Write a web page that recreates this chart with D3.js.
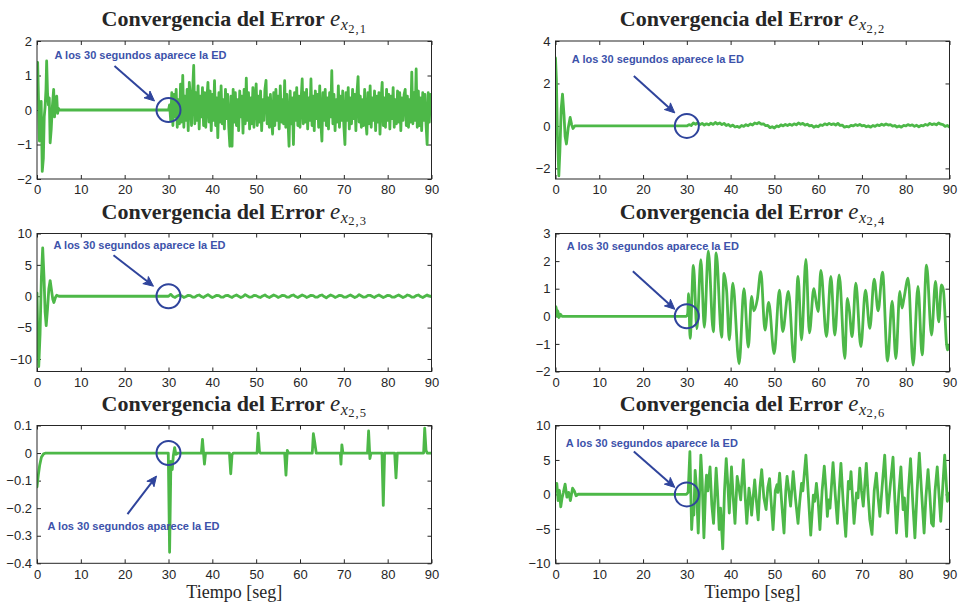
<!DOCTYPE html>
<html>
<head>
<meta charset="utf-8">
<script src="https://cdn.jsdelivr.net/npm/d3@7"></script>
<style>
  html, body { margin: 0; padding: 0; background: #fff; }
  svg { display: block; }
</style>
</head>
<body>
<svg id="chart" width="958" height="605"></svg>
<script>
// ---- axis ticks -------------------------------------------------------
const xTicks = [0, 10, 20, 30, 40, 50, 60, 70, 80, 90];
const yTicks21 = [-2, -1, 0, 1, 2];
const yTicks22 = [-2, 0, 2, 4];
const yTicks23 = [-10, -5, 0, 5, 10];
const yTicks24 = [-2, -1, 0, 1, 2, 3];
const yTicks25 = [-0.4, -0.3, -0.2, -0.1, 0, 0.1];
const yTicks26 = [-10, -5, 0, 5, 10];

// ---- e_{x2,1}: start-up transient [t, e] and sampled response from t = 30 s (dt = 0.25 s)
const e21Start = [
  [0, 1.3], [0.15, 1.38], [0.35, 0.3], [0.55, -0.9], [0.75, -0.75], [0.95, 0.25],
  [1.2, -1.78], [1.45, -1.4], [1.65, -0.2], [1.85, 0.1], [2.05, 0.6], [2.2, 1.42],
  [2.4, 0.5], [2.6, 0.15], [2.8, 0.35], [3.0, -0.95], [3.25, -0.55], [3.5, 0.1],
  [3.8, 0.6], [4.0, -0.2], [4.2, 0.25], [4.5, 0.4], [4.7, -0.1], [4.9, 0.05],
  [5.1, 0], [29.9, 0]
];
const e21After = [
  0, 0.15, -0.3, 0.5, -0.45, 0.45, -0.2, 0.6, -0.5, 0.3, -0.4, 0.75, -0.35, 1.0, -0.5, 0.4, -0.3, 0.6, -0.6, 0.8,
  0.3, -0.45, 0.55, 1.29, -0.4, 0.5, -0.3, 0.7, -0.55, 0.4, -0.2, 0.65, -0.45, 0.5, -0.5, 0.3, 0.8, -0.35, 0.55, -0.6,
  0.45, -0.3, 0.85, -0.45, 0.35, -0.8, 0.5, -0.35, 0.7, -0.4, 0.3, -0.55, 0.6, -0.25, 0.45, -0.5, -1.05, 0.4, -1.05, 0.6,
  -0.35, 0.5, -0.45, 0.3, -0.6, 0.55, -0.2, 0.4, -0.67, 0.6, -0.4, 0.92, -0.3, 0.5, -0.55, 0.35, -0.4, 0.65, -0.5, 0.3,
  0.76, -0.45, 0.4, -0.35, 0.55, -0.6, 0.3, -0.3, 0.6, 0.86, -0.4, 0.35, -0.5, 0.45, -0.25, -0.7, 0.5, -0.45, 0.6, -0.3,
  0.4, -0.55, 0.7, -0.35, 0.3, -0.4, 0.85, -0.5, 0.45, -0.3, -1.05, 0.55, -0.4, 0.35, -1.0, 0.5, -0.3, 0.65, -0.45, 0.4,
  -0.5, 0.3, 0.9, -0.4, 0.5, -0.35, 0.6, -0.55, 0.35, -0.3, 0.9, -0.45, 0.4, -0.6, 0.55, -0.25, 0.45, -0.5, 0.7, -0.35,
  -0.9, 0.5, -0.3, 0.6, -0.45, 0.35, -0.55, 0.5, -0.2, 1.14, -0.4, 0.45, -0.6, 0.3, -0.35, 0.7, -0.5, 0.4, -0.3, 0.55,
  -0.45, -1.0, 0.5, -0.3, 0.65, -0.55, 0.35, -0.4, 0.6, -0.25, 0.45, -0.6, 0.5, 0.97, -0.35, 0.4, -0.5, 0.3, -0.45, 0.6,
  -0.3, -0.7, 0.5, -0.4, 0.7, -0.5, 0.35, -0.3, 0.55, -0.6, 0.4, -0.35, 0.5, -0.7, 0.3, 0.8, -0.45, 0.35, -0.5, 0.6,
  -0.3, 0.45, -0.55, 0.4, -0.25, 0.65, -0.5, 0.3, -0.4, 0.55, -0.35, 0.5, -0.6, 0.35, -0.3, 0.45, 0.6, -0.45, 0.4, -0.5,
  0.3, -0.35, 1.1, -0.4, 0.5, -0.3, 1.19, -0.5, 0.55, -0.45, 0.35, -0.6, 0.5, -0.3, 0.45, -0.4, -1.0, 0.5, -0.35, 0.45,
  0.1
];

// ---- e_{x2,2}: transient and response from t = 30 s (dt = 0.5 s)
const e22Start = [
  [0, 3.2], [0.2, 2.2], [0.45, -0.5], [0.76, -2.35], [1.0, -1.2], [1.3, 0.8], [1.6, 1.5],
  [1.95, 0.5], [2.2, -0.5], [2.5, -0.85], [2.9, -0.1], [3.35, 0.4], [3.7, 0.05],
  [4.0, -0.12], [4.4, 0], [29.9, 0]
];
const e22After = [
  0.0, 0.06, 0.02, 0.14, 0.08, 0.15, 0.06, 0.12, 0.04, 0.1,
  0.05, 0.13, 0.07, 0.16, 0.09, 0.14, 0.06, 0.12, 0.02, 0.07,
  -0.02, 0.04, -0.05, -0.02, -0.07, 0.02, -0.02, 0.06, 0.01, 0.09,
  0.04, 0.14, 0.1, 0.16, 0.08, 0.1, 0.01, 0.02, -0.08, -0.04,
  -0.1, 0.0, -0.04, 0.05, 0.0, 0.07, 0.02, 0.08, 0.03, 0.1,
  0.05, 0.14, 0.08, 0.12, 0.04, 0.08, 0.0, 0.03, -0.06, 0.0,
  -0.04, 0.05, 0.02, 0.1, 0.05, 0.12, 0.06, 0.1, 0.04, 0.12,
  0.02, 0.04, -0.06, -0.02, -0.05, 0.03, 0.0, 0.06, 0.02, 0.07,
  0.0, 0.03, -0.04, 0.0, -0.06, 0.02, -0.02, 0.05, 0.01, 0.08,
  0.03, 0.09, 0.04, 0.06, -0.01, 0.02, -0.05, 0.0, -0.06, 0.02,
  0.0, 0.06, 0.02, 0.05, -0.02, 0.03, -0.04, 0.02, 0.0, 0.07,
  0.03, 0.12, 0.06, 0.1, 0.05, 0.14, 0.08, 0.06, -0.02, 0.02,
  -0.05
];

// ---- e_{x2,3}: transient and response from t = 30 s (dt = 0.5 s)
const e23Start = [
  [0, 0.5], [0.2, -7], [0.4, -11.2], [0.7, -6], [1.0, 3], [1.3, 7.7], [1.6, 3],
  [1.85, -2.5], [2.1, -4.7], [2.4, -2], [2.7, 1.2], [3.0, 2.5], [3.3, 1.0],
  [3.6, -0.5], [3.85, -1.0], [4.2, -0.2], [4.5, 0.15], [5.0, 0], [29.9, 0]
];
const e23After = [
  0.0, 0.3, -0.05, -0.2, 0.05, 0.2, 0.05, -0.2, -0.05, 0.15,
  0.1, -0.15, -0.15, 0.1, 0.2, -0.05, -0.2, 0.05, 0.25, 0.0,
  -0.2, -0.05, 0.15, 0.1, -0.15, -0.15, 0.1, 0.15, -0.05, -0.2,
  0.05, 0.2, 0.0, -0.2, -0.05, 0.25, 0.05, -0.15, -0.1, 0.15,
  0.1, -0.1, -0.2, 0.05, 0.2, -0.05, -0.2, 0.0, 0.2, 0.05,
  -0.2, -0.05, 0.15, 0.1, -0.15, -0.15, 0.1, 0.2, -0.05, -0.2,
  0.0, 0.2, 0.05, -0.2, -0.05, 0.15, 0.1, -0.15, -0.15, 0.1,
  0.2, -0.05, -0.25, 0.0, 0.2, 0.05, -0.2, -0.05, 0.15, 0.1,
  -0.15, -0.15, 0.05, 0.2, 0.0, -0.2, -0.05, 0.25, 0.05, -0.15,
  -0.1, 0.15, 0.15, -0.05, -0.2, 0.05, 0.2, 0.0, -0.2, -0.05,
  0.15, 0.1, -0.15, -0.15, 0.05, 0.2, 0.0, -0.2, -0.05, 0.2,
  0.1, -0.15, -0.15, 0.1, 0.2, -0.05, -0.2, 0.0, 0.2, 0.05,
  -0.05
];

// ---- e_{x2,4}: turning points [t, e]
const e24 = [
  [0, 0.05], [0.15, 0.35], [0.35, 0.0], [0.55, 0.2], [0.8, -0.05], [1.1, 0.08], [1.5, 0], [29.9, 0],
  [30.2, 0.1], [30.4, 0.82], [30.75, -0.8], [31.5, 1.84], [32.3, -0.45], [33.2, 2.05], [34.0, -0.4],
  [34.9, 2.37], [36.05, -0.56], [36.7, 2.3], [37.95, -0.76], [38.5, 1.55], [39.1, 0.9], [39.7, -0.85],
  [40.5, 1.2], [41.95, -1.72], [43.05, 1.0], [44.05, -1.12], [44.8, 0.72], [45.3, 0.2], [46.1, 0.62],
  [46.9, 1.62], [47.85, -0.5], [48.7, 0.5], [49.95, -1.35], [51.15, 0.95], [51.9, -0.55], [53.2, 0.9],
  [54.5, -1.65], [55.4, 1.45], [56.2, -0.85], [57.2, 2.06], [58.0, -0.6], [59.0, 1.0], [59.3, 0.77],
  [60.0, 0.17], [60.62, 1.66], [61.9, -0.74], [62.9, 1.45], [63.8, -0.68], [64.8, 1.5], [66.1, -1.53],
  [66.65, 0.65], [67.1, 0.25], [67.75, -0.74], [68.6, 1.2], [69.75, -1.1], [70.8, 0.95], [71.8, -0.44],
  [72.8, 1.35], [73.7, 0.2], [74.7, 1.6], [75.85, -1.62], [76.9, 0.55], [77.75, -1.53], [78.65, 0.9],
  [79.15, 0.3], [79.6, 0.65], [80.55, 1.38], [81.7, -1.77], [82.8, 1.08], [83.75, -1.4], [84.75, 1.85],
  [85.9, -0.68], [86.8, 1.26], [87.55, -0.2], [88.15, 1.14], [88.6, 0.95], [89.5, -1.22], [90, -1.04]
];

// ---- e_{x2,5}: isolated pulses [t, e]
const e25 = [
  [0, -0.123], [0.3, -0.08], [0.6, -0.045], [1.0, -0.015], [1.5, -0.003], [2, 0], [29.95, 0],
  [30.25, -0.36], [30.55, -0.03], [30.85, -0.06], [31.1, -0.01], [31.4, 0.02], [31.7, -0.005], [32.2, 0],
  [37.5, 0], [37.75, 0.05], [38.0, 0.0], [38.2, -0.04], [38.45, 0],
  [43.9, 0], [44.2, -0.075], [44.5, -0.005], [44.8, 0],
  [50.2, 0], [50.45, 0.072], [50.75, 0.005], [51, 0],
  [56.5, 0], [56.8, -0.08], [57.1, 0.01], [57.4, 0],
  [62.8, 0], [63.05, 0.07], [63.35, 0.04], [63.7, 0],
  [69.2, 0], [69.35, -0.04], [69.55, 0.03], [69.8, 0],
  [75.4, 0], [75.65, 0.08], [75.95, -0.02], [76.2, 0],
  [78.7, 0], [79.0, -0.19], [79.3, 0],
  [81.6, 0], [81.9, -0.09], [82.2, 0],
  [88.2, 0], [88.45, 0.09], [88.75, 0.01], [89, 0], [90, 0]
];

// ---- e_{x2,6}: turning points [t, e]
const e26 = [
  [0, 0.5], [0.3, 1.6], [0.6, -0.9], [0.9, 0.6], [1.2, -1.8], [1.5, -0.5], [1.8, 0.3], [2.2, 1.5],
  [2.6, -0.4], [3.0, 0.3], [3.4, -0.9], [3.9, 0.9], [4.3, 0.5], [4.7, -0.2], [5.2, 0.05], [29.9, 0],
  [30.3, 0.3], [30.7, 6.2], [31.1, -5.1], [31.4, -1.5], [31.6, -3.0], [31.9, 3.5], [32.2, 1.0], [32.6, -5.6],
  [33.2, 5.7], [33.5, 2.0], [33.9, -6.3], [34.3, 1.0], [34.5, 2.8], [34.8, 0.5], [35.3, 4.0], [35.7, -1.5],
  [36.1, -4.2], [36.7, 3.8], [37.0, 0.5], [37.4, -5.1], [37.7, -2.0], [38.2, -7.9], [38.6, 0.5], [39.0, 5.2],
  [39.4, 1.0], [39.7, -2.7], [40.2, 4.0], [40.6, -0.5], [41.0, -4.2], [41.5, 2.6], [41.9, 1.0], [42.3, -0.8],
  [42.9, 5.0], [43.3, 0.0], [43.7, -4.2], [44.2, 0.9], [44.5, -0.5], [44.8, -3.0], [45.5, 2.1], [45.9, -1.0],
  [46.3, -3.7], [46.7, 1.0], [47.1, 3.6], [47.6, -0.5], [48.1, -2.2], [48.5, 1.0], [48.9, 2.3], [49.3, -1.5],
  [49.7, -5.1], [50.2, 0.5], [50.6, 1.4], [50.8, 0.3], [51.2, 3.1], [51.7, -1.5], [52.2, -5.6], [52.6, 0.5],
  [52.9, 2.6], [53.3, 0.5], [53.7, -1.7], [54.3, 3.3], [54.8, -0.5], [55.4, -4.2], [55.8, -1.0], [56.2, 1.6],
  [56.5, 0.5], [57.2, 5.7], [57.7, 0.5], [58.3, -5.9], [58.9, -0.1], [59.2, -1.0], [59.6, 1.6], [60.0, -1.0],
  [60.4, -5.1], [60.9, 0.5], [61.4, 4.1], [61.8, 0.5], [62.1, -3.2], [62.4, -0.8], [62.7, -2.0], [63.4, 4.6],
  [63.9, 0.0], [64.4, -4.2], [64.8, 0.5], [65.2, 4.5], [65.7, -1.0], [66.3, -6.1], [66.9, 1.9], [67.2, 0.8],
  [67.5, 3.3], [67.9, -1.0], [68.2, -4.2], [68.75, 0.2], [69.1, -0.5], [69.5, 3.8], [69.9, 0.5], [70.3, -1.7],
  [71.0, 4.5], [71.4, 0.0], [71.8, -3.7], [72.3, -5.8], [72.8, 0.5], [73.3, 3.1], [73.7, -0.5], [74.1, -3.2],
  [74.6, 1.0], [75.2, 5.7], [75.6, 0.5], [75.9, -2.7], [76.5, 1.5], [77.1, 5.4], [77.5, -0.5], [77.9, -5.6],
  [78.4, 0.0], [78.9, 4.0], [79.4, -2.2], [79.7, -0.5], [80.2, -6.1], [80.6, 0.5], [81.1, 5.2], [81.6, -1.0],
  [82.1, -6.3], [82.6, 0.5], [83.1, 6.0], [83.6, 0.5], [84.2, -5.6], [84.6, -0.5], [85.1, 3.6], [85.5, 0.0],
  [85.9, -4.2], [86.3, -4.6], [86.7, 0.5], [87.2, 4.0], [87.6, 0.0], [88.0, -3.9], [88.4, 0.5], [88.9, 5.7],
  [89.5, -1.0], [90, 0.2]
];

// instant at which the disturbance (ED) enters, and its mark on the zero line
const edMark = [30, 0];
const noteText = "A los 30 segundos aparece la ED";

// ---- helpers ----------------------------------------------------------
const sampled = (t0, dt, values) => values.map((v, i) => [t0 + i * dt, v]);

const panels = [
  { sub: "2,1", box: [37, 41, 431.5, 179], yDomain: [-2, 2], yTicks: yTicks21,
    data: e21Start.concat(sampled(30, 0.25, e21After)), curve: d3.curveLinear,
    note: { text: [-114, -51], tail: [-54, -44], tip: [-14, -9] } },
  { sub: "2,2", box: [555.5, 41, 949.5, 179], yDomain: [-2.5, 4], yTicks: yTicks22,
    data: e22Start.concat(sampled(30, 0.5, e22After)), curve: d3.curveLinear,
    note: { text: [-115, -63], tail: [-53, -50], tip: [-12, -13] } },
  { sub: "2,3", box: [37, 233.5, 431.5, 371.5], yDomain: [-12, 10], yTicks: yTicks23,
    data: e23Start.concat(sampled(30, 0.5, e23After)), curve: d3.curveLinear,
    note: { text: [-115, -47], tail: [-55, -41], tip: [-15, -10] } },
  { sub: "2,4", box: [555.5, 233.5, 949.5, 371.5], yDomain: [-2, 3], yTicks: yTicks24,
    data: e24, curve: d3.curveMonotoneX,
    note: { text: [-120, -66], tail: [-54, -45], tip: [-12, -7] } },
  { sub: "2,5", box: [37, 425.5, 431.5, 563.3], yDomain: [-0.4, 0.1], yTicks: yTicks25,
    data: e25, curve: d3.curveLinear,
    note: { text: [-121, 77], tail: [-41, 61], tip: [-12, 23] }, xLabel: true },
  { sub: "2,6", box: [555.5, 425.5, 949.5, 563.3], yDomain: [-10, 10], yTicks: yTicks26,
    data: e26, curve: d3.curveLinear,
    note: { text: [-121, -47], tail: [-53, -43], tip: [-12, -7] }, xLabel: true }
];

const INK = "#262626";
const GREEN = "#4db848";
const BLUE = "#2f449c";
const BLUE_TEXT = "#3c52aa";
const fmt = d3.format("~g");

const svg = d3.select("#chart");

panels.forEach((p, idx) => {
  const [left, top, right, bottom] = p.box;
  const x = d3.scaleLinear().domain([0, 90]).range([left, right]);
  const y = d3.scaleLinear().domain(p.yDomain).range([bottom, top]);
  const g = svg.append("g");

  const clipId = "clip" + idx;
  g.append("clipPath").attr("id", clipId)
    .append("rect").attr("x", left).attr("y", top)
    .attr("width", right - left).attr("height", bottom - top);

  // axes with inward ticks on all four sides
  const styleAxis = sel => {
    sel.select(".domain").remove();
    sel.selectAll(".tick line").attr("stroke", INK);
    sel.selectAll(".tick text").attr("fill", INK)
      .style("font-family", "'Liberation Sans', Arial, sans-serif").style("font-size", "13px");
  };
  g.append("g").attr("transform", `translate(0,${bottom})`)
    .call(d3.axisBottom(x).tickValues(xTicks).tickSize(-4).tickPadding(6).tickFormat(fmt))
    .call(styleAxis);
  g.append("g").attr("transform", `translate(0,${top})`)
    .call(d3.axisTop(x).tickValues(xTicks).tickSize(-4).tickFormat(""))
    .call(styleAxis);
  g.append("g").attr("transform", `translate(${left},0)`)
    .call(d3.axisLeft(y).tickValues(p.yTicks).tickSize(-4).tickPadding(5).tickFormat(fmt))
    .call(styleAxis);
  g.append("g").attr("transform", `translate(${right},0)`)
    .call(d3.axisRight(y).tickValues(p.yTicks).tickSize(-4).tickFormat(""))
    .call(styleAxis);

  // error signal
  const line = d3.line().x(d => x(d[0])).y(d => y(d[1])).curve(p.curve);
  g.append("path").datum(p.data)
    .attr("clip-path", `url(#${clipId})`)
    .attr("d", line)
    .attr("fill", "none").attr("stroke", GREEN)
    .attr("stroke-width", 2.8).attr("stroke-linejoin", "round").attr("stroke-linecap", "round");

  // frame
  g.append("rect").attr("x", left).attr("y", top)
    .attr("width", right - left).attr("height", bottom - top)
    .attr("fill", "none").attr("stroke", INK).attr("stroke-width", 1);

  // title: Convergencia del Error e_{x_{2,k}}
  const title = g.append("text")
    .attr("x", (left + right) / 2).attr("y", top - 15)
    .attr("text-anchor", "middle").attr("fill", INK)
    .style("font-family", "'Liberation Serif', 'Times New Roman', serif");
  title.append("tspan").text("Convergencia del Error ")
    .style("font-weight", "bold").style("font-size", "22px");
  title.append("tspan").text("e")
    .style("font-style", "italic").style("font-size", "23px");
  title.append("tspan").text("x").attr("dx", 0.5).attr("dy", 4)
    .style("font-style", "italic").style("font-size", "16px");
  title.append("tspan").text(p.sub).attr("dx", 0.5).attr("dy", 2.5)
    .style("font-size", "12.5px").style("letter-spacing", "1px");

  // annotation: circle at the onset, arrow and note
  const cx = x(edMark[0]), cy = y(edMark[1]);
  g.append("circle").attr("cx", cx).attr("cy", cy).attr("r", 12)
    .attr("fill", "none").attr("stroke", BLUE).attr("stroke-width", 2);

  const x0 = cx + p.note.tail[0], y0 = cy + p.note.tail[1];
  const x1 = cx + p.note.tip[0], y1 = cy + p.note.tip[1];
  const ang = Math.atan2(y1 - y0, x1 - x0);
  const headLen = 10, headHalf = 4.5;
  const bx = x1 - headLen * Math.cos(ang), by = y1 - headLen * Math.sin(ang);
  g.append("line").attr("x1", x0).attr("y1", y0)
    .attr("x2", x1 - 6 * Math.cos(ang)).attr("y2", y1 - 6 * Math.sin(ang))
    .attr("stroke", BLUE).attr("stroke-width", 2);
  const nx = -Math.sin(ang), ny = Math.cos(ang);
  const head = d3.path();
  head.moveTo(x1, y1);
  head.lineTo(bx + nx * headHalf, by + ny * headHalf);
  head.lineTo(x1 - 7.5 * Math.cos(ang), y1 - 7.5 * Math.sin(ang));
  head.lineTo(bx - nx * headHalf, by - ny * headHalf);
  head.closePath();
  g.append("path").attr("d", head.toString()).attr("fill", BLUE)
    .attr("stroke", BLUE).attr("stroke-width", 1).attr("stroke-linejoin", "miter");

  g.append("text").attr("x", cx + p.note.text[0]).attr("y", cy + p.note.text[1])
    .attr("fill", BLUE_TEXT)
    .style("font-family", "'Liberation Sans', Arial, sans-serif")
    .style("font-weight", "bold").style("font-size", "11px")
    .text(noteText);

  if (p.xLabel) {
    g.append("text").attr("x", (left + right) / 2).attr("y", 598)
      .attr("text-anchor", "middle").attr("fill", INK)
      .style("font-family", "'Liberation Serif', 'Times New Roman', serif")
      .style("font-size", "18px")
      .text("Tiempo [seg]");
  }
});
</script>
</body>
</html>
